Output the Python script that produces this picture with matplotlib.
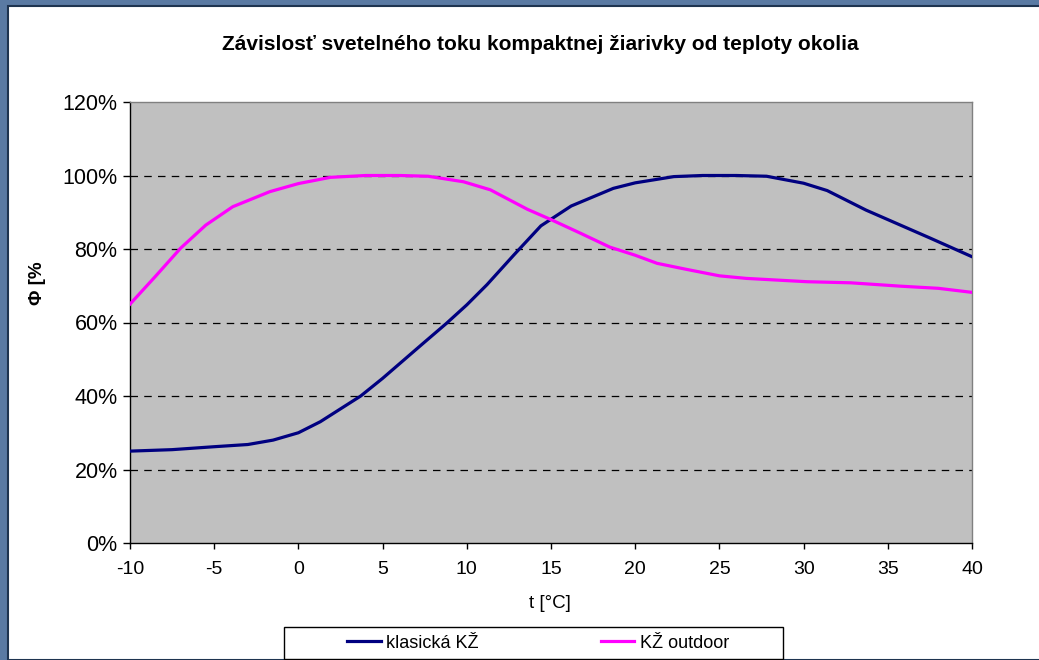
import matplotlib
matplotlib.use("Agg")
import matplotlib.pyplot as plt
from matplotlib.patches import Rectangle
from matplotlib.ticker import FuncFormatter

plt.rcParams['font.family'] = ['Liberation Sans', 'DejaVu Sans']
plt.rcParams['axes.unicode_minus'] = False

title = "Závislosť svetelného toku kompaktnej žiarivky od teploty okolia"
x_label = "t [°C]"
y_label = "Φ [%"
series_names = ["klasická KŽ", "KŽ outdoor"]

t_klasicka = [-10, -7.5, -5, -3, -1.5, 0, 1.3, 2.5, 3.7, 5, 7.4, 8.8, 10, 11.2, 12.8,
              14.4, 16.2, 18.7, 20, 22.3, 24, 26, 27.8, 30, 31.4, 33.7, 35, 37.5, 40]
v_klasicka = [25, 25.4, 26.2, 26.8, 28, 30, 33, 36.5, 40, 44.8, 54.3, 59.8, 64.8, 70.3, 78.4,
              86.3, 91.7, 96.5, 98, 99.7, 100, 100, 99.8, 97.9, 95.9, 90.6, 88.0, 83.0, 77.9]

t_outdoor = [-10, -8.5, -7, -5.5, -3.9, -1.7, 0, 1.9, 4, 6, 7.7, 9.8, 11.4, 13.6, 15,
             16.7, 18.5, 20, 21.3, 23, 25, 26.6, 30.2, 32.8, 35.7, 38, 40]
v_outdoor = [65, 72.5, 80.2, 86.5, 91.5, 95.6, 97.8, 99.5, 100, 100, 99.8, 98.3, 96.1, 90.8, 88.0,
             84.4, 80.5, 78.3, 76.1, 74.5, 72.7, 72.0, 71.1, 70.8, 69.9, 69.3, 68.2]

x_ticks = [-10, -5, 0, 5, 10, 15, 20, 25, 30, 35, 40]
y_ticks = [0, 20, 40, 60, 80, 100, 120]

W, H = 1039, 660
fig = plt.figure(figsize=(W / 100, H / 100), dpi=100)
fig.patch.set_facecolor('#5A7AA3')

# white chart area
fig.patches.append(Rectangle((8 / W, 0), 1, (H - 6) / H, transform=fig.transFigure,
                             facecolor='white', edgecolor='#1E3450', linewidth=1.5, zorder=-10))

ax = fig.add_axes([130 / W, 117 / H, 842 / W, 441 / H])
ax.set_zorder(2)
ax.set_facecolor('#C0C0C0')

ax.plot(t_klasicka, v_klasicka, color='#000080', linewidth=2.3, label=series_names[0],
        solid_joinstyle='round', zorder=3)
ax.plot(t_outdoor, v_outdoor, color='#FF00FF', linewidth=2.3, label=series_names[1],
        solid_joinstyle='round', zorder=3)

ax.set_xlim(-10, 40)
ax.set_ylim(0, 120)
ax.set_xticks(x_ticks)
ax.set_yticks(y_ticks)
ax.yaxis.set_major_formatter(FuncFormatter(lambda v, p: f"{int(round(v))}%"))

for yv in y_ticks[1:-1]:
    ax.axhline(yv, color='black', linestyle=(0, (6, 5)), linewidth=0.9, zorder=1)

ax.spines['left'].set_color('black')
ax.spines['bottom'].set_color('black')
ax.spines['top'].set_color('#808080')
ax.spines['right'].set_color('#808080')
for s in ax.spines.values():
    s.set_linewidth(1.0)

ax.tick_params(axis='y', direction='out', length=5, width=1, pad=4, labelsize=15.5)
ax.tick_params(axis='x', direction='out', length=4, width=1, pad=9, labelsize=14)

fig.text(540 / W, 1 - 45 / H, title, ha='center', va='center', fontsize=15, fontweight='bold')
fig.text(550 / W, 1 - 603 / H, x_label, ha='center', va='center', fontsize=13.5)
fig.text(38 / W, 1 - 305 / H, y_label, ha='center', va='bottom', rotation=90,
         fontsize=13.5, fontweight='bold')

# legend frame
fig.patches.append(Rectangle((284 / W, 1 / H), (783 - 284) / W, 32 / H, transform=fig.transFigure,
                             facecolor='white', edgecolor='black', linewidth=1.0, zorder=1))
leg = fig.legend(loc='center', bbox_to_anchor=(538 / W, 1 - 643 / H), ncol=2, frameon=False,
                 fontsize=13, handlelength=1.85, handletextpad=0.28, columnspacing=6.8,
                 borderpad=0.2)
leg.set_zorder(5)

fig.savefig('out.png', dpi=100)
